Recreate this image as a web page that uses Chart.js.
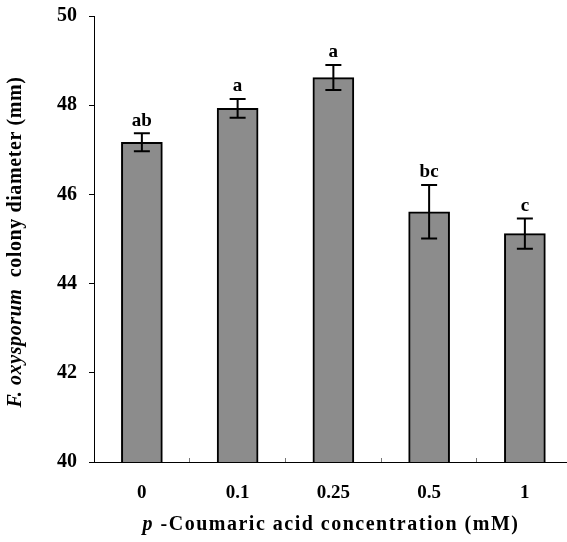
<!DOCTYPE html>
<html>
<head>
<meta charset="utf-8">
<script src="https://cdn.jsdelivr.net/npm/chart.js@4"></script>
<style>
  html, body { margin: 0; padding: 0; background: #fff; }
  #wrap { width: 567px; height: 542px; position: relative; }
</style>
</head>
<body>
<div id="wrap"><canvas id="barChart"></canvas></div>
<script>
// p-coumaric acid concentrations (mM)
const concentrations = ['0', '0.1', '0.25', '0.5', '1'];
// colony diameter (mm), means and standard errors
const diameters = [47.17, 47.93, 48.62, 45.61, 45.12];
const errors = [0.2, 0.21, 0.28, 0.6, 0.34];
const letters = ['ab', 'a', 'a', 'bc', 'c'];
const yTicks = [40, 42, 44, 46, 48, 50];

const serif = '"Liberation Serif", "Times New Roman", serif';

// error bars + significance letters
const errorBars = {
    id: 'errorBars',
    afterDatasetsDraw(chart) {
        const ctx = chart.ctx;
        const x = chart.scales.x;
        const y = chart.scales.y;
        ctx.save();
        ctx.strokeStyle = '#000';
        ctx.lineWidth = 2;
        ctx.fillStyle = '#000';
        ctx.font = 'bold 19px ' + serif;
        ctx.textAlign = 'center';
        ctx.textBaseline = 'bottom';
        diameters.forEach(function(v, i) {
            const px = x.getPixelForValue(i);
            const top = y.getPixelForValue(v + errors[i]);
            const bot = y.getPixelForValue(v - errors[i]);
            ctx.beginPath();
            ctx.moveTo(px, top);
            ctx.lineTo(px, bot);
            ctx.moveTo(px - 8, top);
            ctx.lineTo(px + 8, top);
            ctx.moveTo(px - 8, bot);
            ctx.lineTo(px + 8, bot);
            ctx.stroke();
            ctx.fillText(letters[i], px, top - 3);
        });
        ctx.restore();
    }
};

// axis titles with mixed italic parts
const axisTitles = {
    id: 'axisTitles',
    afterDraw(chart) {
        const ctx = chart.ctx;
        const area = chart.chartArea;
        ctx.save();
        ctx.fillStyle = '#000';
        ctx.textBaseline = 'middle';

        // x title
        const xParts = [
            { t: 'p', f: 'italic bold 20px ' + serif },
            { t: ' -Coumaric acid concentration (mM)', f: 'bold 20px ' + serif }
        ];
        ctx.letterSpacing = '1.5px';
        let w = 0;
        xParts.forEach(function(p) { ctx.font = p.f; w += ctx.measureText(p.t).width; });
        let cx = 331 - w / 2;
        xParts.forEach(function(p) {
            ctx.font = p.f;
            ctx.textAlign = 'left';
            ctx.fillText(p.t, cx, 525);
            cx += ctx.measureText(p.t).width;
        });

        // y title
        ctx.letterSpacing = '0.6px';
        const yParts = [
            { t: 'F. oxysporum', f: 'italic bold 20px ' + serif },
            { t: '  colony diameter (mm)', f: 'bold 20px ' + serif }
        ];
        w = 0;
        yParts.forEach(function(p) { ctx.font = p.f; w += ctx.measureText(p.t).width; });
        ctx.translate(16, (area.top + area.bottom) / 2 + 3);
        ctx.rotate(-Math.PI / 2);
        let cy = -w / 2;
        yParts.forEach(function(p) {
            ctx.font = p.f;
            ctx.textAlign = 'left';
            ctx.fillText(p.t, cy, 0);
            cy += ctx.measureText(p.t).width;
        });
        ctx.restore();
    }
};

document.addEventListener('DOMContentLoaded', function() {
    const ctx = document.getElementById('barChart');

    new Chart(ctx, {
        type: 'bar',
        data: {
            datasets: [{
                label: 'Colony diameter',
                data: diameters.map(function(v, i) { return { x: i, y: v }; }),
                backgroundColor: '#8c8c8c',
                borderColor: '#000',
                borderWidth: 2,
                barThickness: 41
            }]
        },
        options: {
            responsive: true,
            maintainAspectRatio: false,
            animation: false,
            layout: { padding: { top: 16, right: 0, bottom: 0, left: 0 } },
            plugins: {
                legend: { display: false },
                tooltip: { enabled: false }
            },
            scales: {
                x: {
                    type: 'linear',
                    min: -0.5,
                    max: 4.44,
                    offset: false,
                    afterFit: function(scale) {
                        scale.height = 80;
                        scale.paddingLeft = 0;
                        scale.paddingRight = 0;
                    },
                    afterBuildTicks: function(scale) {
                        scale.ticks = [0, 0.5, 1, 1.5, 2, 2.5, 3, 3.5, 4].map(function(v) { return { value: v }; });
                    },
                    border: { color: '#000', width: 1 },
                    grid: {
                        offset: false,
                        drawOnChartArea: false,
                        tickLength: -4,
                        color: '#777'
                    },
                    ticks: {
                        color: '#000',
                        font: { family: serif, size: 19, weight: 'bold' },
                        padding: 24,
                        maxRotation: 0,
                        autoSkip: false,
                        callback: function(value) {
                            return Number.isInteger(value) ? concentrations[value] : '';
                        }
                    }
                },
                y: {
                    min: 40,
                    max: 50,
                    afterFit: function(scale) {
                        scale.width = 94;
                        scale.paddingTop = 0;
                        scale.paddingBottom = 0;
                    },
                    afterBuildTicks: function(scale) {
                        scale.ticks = yTicks.map(function(v) { return { value: v }; });
                    },
                    border: { color: '#000', width: 1 },
                    grid: {
                        drawOnChartArea: false,
                        tickLength: 5,
                        color: '#000'
                    },
                    ticks: {
                        color: '#000',
                        font: { family: serif, size: 20, weight: 'bold' },
                        padding: 12
                    }
                }
            }
        },
        plugins: [errorBars, axisTitles]
    });
});
</script>
</body>
</html>
